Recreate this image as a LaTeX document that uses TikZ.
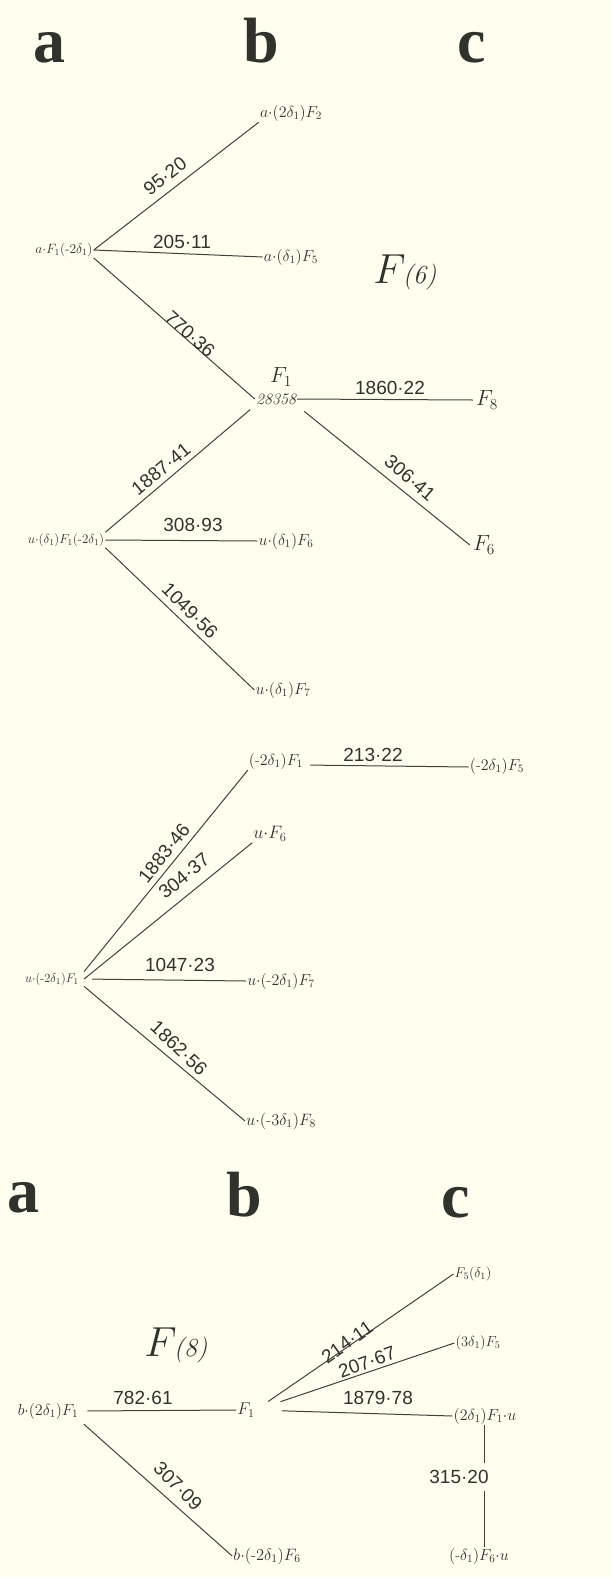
\RequirePackage{fix-cm}
\documentclass[tikz,border=0pt]{standalone}
\usepackage{fontspec}
\newfontfamily\numfont{Liberation Sans}
\newfontfamily\hdrfont{Liberation Serif}
\newcommand{\dhy}{\mbox{-}}
\definecolor{bgc}{RGB}{255,255,239}
\definecolor{ink}{RGB}{50,50,45}
\definecolor{linec}{RGB}{65,65,60}
\begin{document}
\begin{tikzpicture}[x=1pt,y=-1pt,
  every node/.style={text=ink},
  lbl/.style={inner sep=1pt, font=\fontsize{16}{18}\selectfont},
  num/.style={inner sep=0pt, font=\numfont\fontsize{19}{21}\selectfont},
  hdr/.style={anchor=base, inner sep=0pt, font=\hdrfont\bfseries\fontsize{64}{70}\selectfont},
  ttl/.style={inner sep=0pt},
  ln/.style={draw=linec, line width=1pt}]
\fill[bgc] (0,0) rectangle (611,1577);
\useasboundingbox (0,0) rectangle (611,1577);

% headers
\node[hdr] (ha1) at (49,62) {a};
\node[hdr] (hb1) at (261,62) {b};
\node[hdr] (hc1) at (472,62) {c};
\node[hdr] (ha2) at (24,1212) {a};
\node[hdr] (hb2) at (244,1216) {b};
\node[hdr] (hc2) at (456,1217) {c};

% ---------- F(6) upper fan ----------
\node[lbl, font=\fontsize{13.5}{15}\selectfont] (A) at (64,250) {$a{\cdot}F_1(\dhy2\delta_1)$};
\node[lbl] (T1) at (291,113) {$a{\cdot}(2\delta_1)F_2$};
\node[lbl] (T2) at (291,257) {$a{\cdot}(\delta_1)F_5$};
\node[ttl] (F6t) at (405,272) {\fontsize{42}{44}\selectfont$F$\kern-3pt\fontsize{26}{28}\selectfont\itshape(6)};
\node[lbl, font=\fontsize{22}{24}\selectfont] (F1) at (281,377) {$F_1$};
\node[lbl, font=\itshape\fontsize{16}{17}\selectfont] (F1n) at (276,399) {28358};
\node[lbl, font=\fontsize{22}{24}\selectfont, inner sep=3pt] (F8) at (487,400) {$F_8$};
\node[lbl, font=\fontsize{22}{24}\selectfont, inner sep=3pt] (F6) at (484,545) {$F_6$};
\node[lbl, font=\fontsize{13}{15}\selectfont] (U) at (66,540) {$u{\cdot}(\delta_1)F_1(\dhy2\delta_1)$};
\node[lbl] (UF6) at (286,541) {$u{\cdot}(\delta_1)F_6$};
\node[lbl] (UF7) at (283,690) {$u{\cdot}(\delta_1)F_7$};

\draw[ln] (A.east) -- (T1.south west);
\draw[ln] (A.east) -- (T2.west);
\draw[ln] (A.south east) -- (F1n.west);
\draw[ln] (F1n.east) -- (F8.west);
\draw[ln, shorten <=9pt] (F1n.south east) -- (F6.west);
\draw[ln, shorten <=6pt] (F1n.south west) -- (U.north east);
\draw[ln] (U.east) -- (UF6.west);
\draw[ln] (U.south east) -- (UF7.west);

\node[num, rotate=37.7] (n1) at (165,176) {95·20};
\node[num] (n2) at (182,242) {205·11};
\node[num, rotate=-41.5] (n3) at (190,334) {770·36};
\node[num] (n4) at (390,388) {1860·22};
\node[num, rotate=-40.1] (n5) at (410,478) {306·41};
\node[num, rotate=39.3] (n6) at (161,469) {1887·41};
\node[num] (n7) at (193,525) {308·93};
\node[num, rotate=-45] (n8) at (190,611) {1049·56};

% ---------- F(6) lower fan ----------
\node[lbl] (M) at (276,761) {$(\dhy2\delta_1)F_1$};
\node[lbl] (M5) at (497,766) {$(\dhy2\delta_1)F_5$};
\node[lbl, font=\fontsize{18}{20}\selectfont] (UF6b) at (270,834) {$u{\cdot}F_6$};
\node[lbl, font=\fontsize{12.5}{14}\selectfont, inner xsep=5pt] (V) at (52,979) {$u{\cdot}(\dhy2\delta_1)F_1$};
\node[lbl] (V7) at (281,981) {$u{\cdot}(\dhy2\delta_1)F_7$};
\node[lbl, font=\fontsize{16.5}{18}\selectfont] (V8) at (281,1121) {$u{\cdot}(\dhy3\delta_1)F_8$};

\draw[ln, shorten <=6pt] ([yshift=-4pt]M.east) -- ([yshift=-1pt]M5.west);
\draw[ln] (V.north east) -- (M.south west);
\draw[ln] (V.east) -- (UF6b.south west);
\draw[ln, shorten <=8pt] (V.east) -- (V7.west);
\draw[ln] (V.south east) -- (V8.west);

\node[num] (n9) at (373,755) {213·22};
\node[num, rotate=51.3] (n10) at (164,853) {1883·46};
\node[num, rotate=39.7] (n11) at (184,876) {304·37};
\node[num] (n12) at (180,965) {1047·23};
\node[num, rotate=-43.4] (n13) at (179,1048) {1862·56};

% ---------- F(8) ----------
\node[ttl] (F8t) at (176,1345) {\fontsize{42}{44}\selectfont$F$\kern-3pt\fontsize{26}{28}\selectfont\itshape(8)};
\node[lbl] (B) at (48,1411) {$b{\cdot}(2\delta_1)F_1$};
\node[lbl, font=\fontsize{17}{19}\selectfont] (C) at (246,1410) {$F_1$};
\node[lbl, font=\fontsize{16.5}{18}\selectfont] (B6) at (267,1556) {$b{\cdot}(\dhy2\delta_1)F_6$};
\node[lbl, font=\fontsize{14}{16}\selectfont] (R1) at (473,1274) {$F_5(\delta_1)$};
\node[lbl, font=\fontsize{14.5}{16}\selectfont] (R2) at (478,1343) {$(3\delta_1)F_5$};
\node[lbl, font=\fontsize{16}{17}\selectfont] (R3) at (485,1416) {$(2\delta_1)F_1{\cdot}u$};
\node[lbl] (R4) at (479,1556) {$(\dhy\delta_1)F_6{\cdot}u$};
\node[num] (n19) at (459,1477) {315·20};

\draw[ln, shorten <=8pt] (B.east) -- (C.west);
\draw[ln, shorten <=6pt] (B.south east) -- (B6.west);
\draw[ln, shorten <=15pt] (C.east) -- (R1.west);
\draw[ln, shorten <=26pt] (C.east) -- (R2.west);
\draw[ln, shorten <=26pt] (C.east) -- (R3.west);
\draw[ln] ([xshift=-1pt]R3.south) -- ([xshift=-1pt,yshift=7pt]R3.south |- n19.north);
\draw[ln] ([xshift=-1pt,yshift=-7pt]R3.south |- n19.south) -- ([xshift=-1pt]R3.south |- R4.north);

\node[num] (n14) at (143,1398) {782·61};
\node[num, rotate=-44.6] (n15) at (178,1486) {307·09};
\node[num, rotate=35.3] (n16) at (347,1342) {214·11};
\node[num, rotate=19.7] (n17) at (367,1362) {207·67};
\node[num] (n18) at (378,1398) {1879·78};
\end{tikzpicture}
\end{document}
